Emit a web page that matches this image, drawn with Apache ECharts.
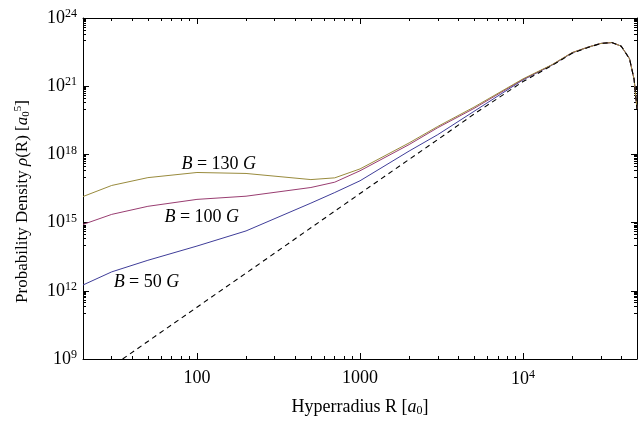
<!DOCTYPE html>
<html><head><meta charset="utf-8">
<script src="https://cdn.jsdelivr.net/npm/echarts@6/dist/echarts.min.js"></script>
<style>html,body{margin:0;padding:0;background:#fff}#c{width:640px;height:422px}</style>
</head><body><div id="c"></div>
<script>
// Hyperradius values (a0)
const R = [20, 30, 50, 100, 200, 500, 700, 1000, 2000, 3000, 5000, 10000, 15000, 20000, 25000, 30000, 35000, 40000, 45000, 48000, 50000];
// Probability density for each field
const B130 = [1.4e16, 4.3e16, 9.5e16, 1.6e17, 1.45e17, 7.8e16, 9.3e16, 2.3e17, 3.2e18, 1.7e19, 1.2e20, 2.1e21, 8.7e21, 3.0e22, 5.2e22, 7.6e22, 8.3e22, 5.8e22, 1.6e22, 2.0e21, 1.0e20];
const B100 = [8.3e14, 2.3e15, 5.2e15, 1.05e16, 1.45e16, 3.5e16, 6.0e16, 1.9e17, 2.7e18, 1.5e19, 1.05e20, 2.0e21, 8.6e21, 3.0e22, 5.2e22, 7.6e22, 8.3e22, 5.8e22, 1.6e22, 2.0e21, 1.0e20];
const B50 = [1.8e12, 6.8e12, 2.2e13, 9.3e13, 4.3e14, 7.2e15, 2.1e16, 6.9e16, 1.4e18, 7.4e18, 7.8e19, 1.9e21, 8.3e21, 2.9e22, 5.2e22, 7.6e22, 8.3e22, 5.8e22, 1.6e22, 2.0e21, 1.0e20];
// Field-free reference (dashed)
const R0 = [35, 100, 200, 500, 1000, 2000, 3000, 5000, 10000, 15000, 20000, 25000, 30000, 35000, 40000, 45000, 48000, 50000];
const B0 = [1e9, 1.9e11, 6.0e12, 5.9e14, 1.9e16, 6.0e17, 4.5e18, 5.9e19, 1.6e21, 8.0e21, 2.8e22, 5.0e22, 7.6e22, 8.3e22, 5.8e22, 1.6e22, 2.0e21, 1.0e20];
// Curve labels
const curveLabels = ['{i|B} = 130 {i|G}', '{i|B} = 100 {i|G}', '{i|B} = 50 {i|G}'];
const labelAt = [[136, 3.5e17], [107, 1.7e15], [49, 2.4e12]];
// Tick labels
const xTickLabels = {100: '100', 1000: '1000', 10000: '10{sup|4}'};
const yTickExps = [9, 12, 15, 18, 21, 24];

const FONT = '"Liberation Serif", "DejaVu Serif", serif';
const pair = (xs, ys) => xs.map((x, i) => [x, ys[i]]);
function makeRich(fs, ss) {
  return {
    n: {fontFamily: FONT, fontSize: fs, color: '#000'},
    i: {fontFamily: FONT, fontSize: fs, fontStyle: 'italic', color: '#000'},
    sup: {fontFamily: FONT, fontSize: ss, color: '#000', verticalAlign: 'top', padding: [0, 0, 8, 0]},
    sub: {fontFamily: FONT, fontSize: ss, color: '#000', padding: [8, 0, 0, 0]}
  };
}
const rich = makeRich(18, 12);
const richY = makeRich(17, 11);
const tickCommon = {inside: true, length: 6, lineStyle: {color: '#000', width: 1}};
const minorCommon = {show: true, length: 3, lineStyle: {color: '#000', width: 1}};
const lineCommon = {show: true, onZero: false, lineStyle: {color: '#000', width: 1}};

function xAxisDef(pos, showLabels) {
  return {
    type: 'log', logBase: 10, min: 20, max: 50000, position: pos,
    axisLine: lineCommon, axisTick: tickCommon,
    minorTick: Object.assign({splitNumber: 9}, minorCommon),
    splitLine: {show: false}, minorSplitLine: {show: false},
    axisLabel: {show: showLabels, showMinLabel: false, showMaxLabel: false, margin: 10,
      fontFamily: FONT, fontSize: 18, color: '#000', rich: rich,
      formatter: v => xTickLabels[Math.round(v)] || ''},
    name: showLabels ? 'Hyperradius R [{i|a}{sub|0}]' : '',
    nameLocation: 'middle', nameGap: 38,
    nameTextStyle: {fontFamily: FONT, fontSize: 18, color: '#000', rich: rich}
  };
}
function yAxisDef(pos, showLabels) {
  return {
    type: 'log', logBase: 10, min: 1e9, max: 1e24, interval: 3, position: pos,
    axisLine: lineCommon, axisTick: tickCommon,
    minorTick: Object.assign({splitNumber: 10}, minorCommon),
    splitLine: {show: false}, minorSplitLine: {show: false},
    axisLabel: {show: showLabels, margin: 6, fontFamily: FONT, fontSize: 18, color: '#000', rich: rich,
      formatter: v => {
        const e = Math.round(Math.log10(v));
        return yTickExps.indexOf(e) >= 0 ? '10{sup|' + e + '}' : '';
      }},
    name: showLabels ? '{n|Probability Density }{i|ρ}{n|(R) [}{i|a}{sub|0}{sup|5}{n|]}' : '',
    nameLocation: 'middle', nameRotate: 90, nameGap: 51,
    nameTextStyle: {fontFamily: FONT, fontSize: 17, color: '#000', rich: richY, padding: [0, 26, 0, 0]}
  };
}
function mkLabel(idx) {
  return {
    symbol: 'circle', symbolSize: 0, silent: true,
    label: {show: true, position: 'inside', formatter: curveLabels[idx], fontFamily: FONT, fontSize: 18, color: '#000', rich: rich},
    data: [{coord: labelAt[idx]}]
  };
}
const chart = echarts.init(document.getElementById('c'), null, {renderer: 'canvas'});
chart.setOption({
  animation: false,
  backgroundColor: '#fff',
  grid: {left: 83, right: 3, top: 18, bottom: 62, containLabel: false},
  xAxis: [xAxisDef('bottom', true), xAxisDef('top', false)],
  yAxis: [yAxisDef('left', true), yAxisDef('right', false)],
  series: [
    {type: 'line', data: pair(R, B50), showSymbol: false, symbol: 'none', clip: true,
      lineStyle: {color: '#3F3D99', width: 1}, markPoint: mkLabel(2)},
    {type: 'line', data: pair(R, B100), showSymbol: false, symbol: 'none', clip: true,
      lineStyle: {color: '#993D71', width: 1}, markPoint: mkLabel(1)},
    {type: 'line', data: pair(R, B130), showSymbol: false, symbol: 'none', clip: true,
      lineStyle: {color: '#998B3D', width: 1}, markPoint: mkLabel(0)},
    {type: 'line', data: pair(R0, B0), showSymbol: false, symbol: 'none', clip: true,
      lineStyle: {color: '#000', width: 1.1, type: [5, 4]}}
  ]
});
</script></body></html>
